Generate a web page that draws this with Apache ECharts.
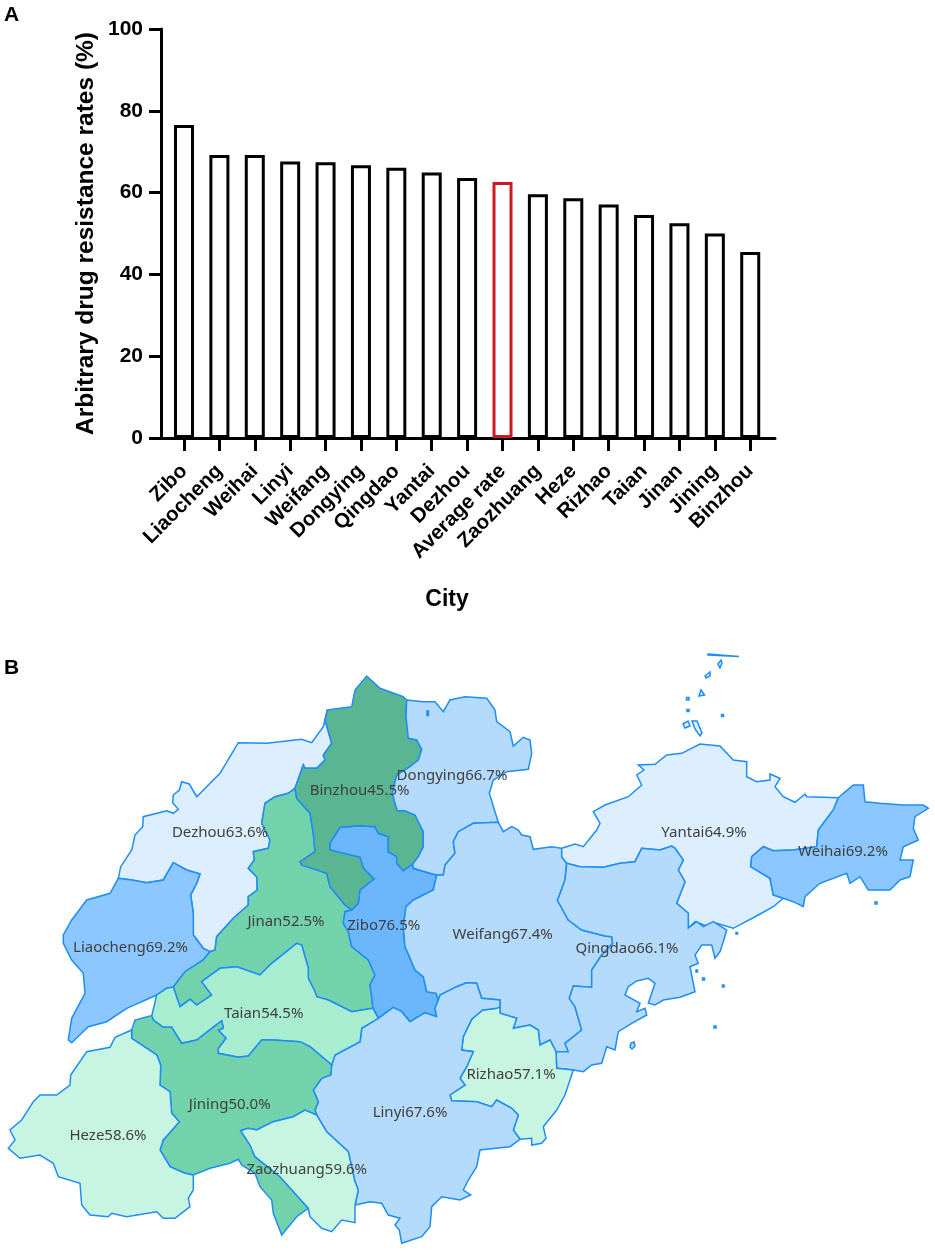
<!DOCTYPE html>
<html>
<head>
<meta charset="utf-8">
<title>Arbitrary drug resistance rates</title>
<script src="https://cdn.jsdelivr.net/npm/echarts@6/dist/echarts.min.js"></script>
<style>
html, body { margin: 0; padding: 0; background: #fff; }
#chart { width: 935px; height: 1251px; }
</style>
</head>
<body>
<div id="chart"></div>
<script>
// bar values, same order as the figure
const cities = ["Zibo", "Liaocheng", "Weihai", "Linyi", "Weifang", "Dongying", "Qingdao", "Yantai", "Dezhou",
    "Average rate", "Zaozhuang", "Heze", "Rizhao", "Taian", "Jinan", "Jining", "Binzhou"]
const rates = [76.5, 69.2, 69.2, 67.6, 67.4, 66.7, 66.1, 64.9, 63.6, 62.6, 59.6, 58.6, 57.1, 54.5, 52.5, 50.0, 45.5]
const yTicks = [0, 20, 40, 60, 80, 100]

// map classes: upper bound of each value band and its fill
const bandLimits = [48, 54, 56, 60, 66, 68, 70, 80]
const bandColors = ["#5ab592", "#72d2ac", "#a8edd0", "#c8f4e2", "#dceeff", "#b5dbfc", "#8cc8ff", "#6cb6fb"]

// region borders, in map units. shared borders are kept once and reused
const dezhouCoast = [[118.3,878.3],[120.7,866.7],[131.7,850],[135,835],[142.7,826.7],[143.3,816.7],[166.7,810.7],[173.3,813.3],[178.3,809.3],[172.7,802.7],[173.3,795],[179.3,790],[181.7,781.7],[189.3,784],[196.7,796.7],[220,773.3],[230,756.7],[238.3,742.7],[266.7,743.3],[301.7,739.3],[311.7,742.7],[323.3,726.7],[327.3,710]]
const binDezhou = [[327.3,710],[325,720],[331.7,743.3],[323.3,755],[325,760],[316.7,768.3],[305,768.3],[303.3,765],[295,788.3]]
const dezhouJinan = [[295,788.3],[288.3,793.3],[275,796.7],[265,803.3],[261.7,823.3],[270,840],[268.3,848.3],[253.3,851.7],[254.3,860],[248.3,868.3],[256.7,876.7],[257.3,890],[248.3,896.7],[248.3,905],[233.3,918.3],[216.7,936.7],[215,950],[210,951.7]]
const dezhouLiao = [[210,951.7],[203.3,948.3],[193.3,935],[193.3,913.3],[190.7,895],[196.7,883.3],[200,874],[186.7,870],[173.3,862.7],[163.3,880],[146.7,882.7],[131.7,880],[118.3,878.3]]
const liaoOuter = [[118.3,878.3],[110,893.3],[86.7,900],[71.7,920],[63.3,935],[63.3,943.3],[71.7,960],[83.3,973.3],[85,993.3],[71.7,1018.3],[68.3,1040],[71.7,1042.7],[88.3,1026.7],[106.7,1021.7],[126.7,1008.3],[156.7,995]]
const liaoTaian = [[156.7,995],[166.7,988.3],[173.3,987]]
const liaoJinan = [[173.3,987],[185,971.7],[203.3,960],[210,951.7]]
const binTop = [[327.3,710],[351.7,706.7],[355,690],[366.7,676],[380,688.3],[403.3,696.7],[406.7,700]]
const binDong = [[406.7,700],[406,716.7],[408.3,738.3],[416.7,740],[421.7,749.3],[418.3,760],[410,766.7],[396.7,775],[392.3,793.3],[395,803.3],[397.3,810.7],[405,810.7],[415,815],[423.3,831.7],[423.3,846.7],[418.3,856.7],[412.7,864]]
const binZibo = [[412.7,864],[403.3,870.7],[396.7,863.3],[396.7,856.7],[388.3,851.7],[388.3,836.7],[378.3,833.3],[375,826.7],[360,825.7],[340,827.3],[330,843.3],[330,850],[360,857.3],[363.3,868.3],[374,879],[360,890],[358.3,903.3],[351.7,910]]
const binJinan = [[351.7,910],[345,905],[330,886.7],[326.7,873.3],[301.7,865],[300,861.7],[315,851.7],[313.3,833.3],[310,813.3],[296.7,798.3],[295,788.3]]
const jinanZibo = [[351.7,910],[345,911.7],[343.3,923.3],[348.3,931.7],[351.7,946.7],[368.3,960],[375,975],[370,985],[371.7,997],[373,1008.3]]
const jinanTaian = [[373,1008.3],[351.7,1011.7],[328.3,1000],[316.7,996.7],[315,991.7],[308.3,978.3],[308.3,968.3],[301.7,945],[296.7,943.3],[271.7,963.3],[260,975],[236.7,966.7],[220,968.3],[201.7,981.7],[211.7,995],[196.7,1005],[190,999.3],[180,1006.7],[173.3,987]]
const ziboLinyi = [[373,1008.3],[378.3,1018.3],[393.3,1007.3],[401.7,1011.7],[410,1021.7],[425,1012.7],[436.7,1016.7],[435,1008.3],[438.3,1000]]
const ziboWeifang = [[438.3,1000],[436,993.3],[426.7,991.7],[423.3,976.7],[415,970],[407.3,951.7],[405,946.7],[403.3,926.7],[406,906.7],[413.3,900],[433.3,890],[436.7,875]]
const ziboDong = [[436.7,875],[430,873.3],[413.3,868.3],[412.7,864]]
const dongCoast = [[406.7,700],[423.3,701.7],[435,701.7],[443.3,711.7],[450,700],[465,696.7],[486.7,698.3],[495,710],[496.7,721.7],[510,731.7],[513.3,746],[523.3,737.3],[530,740],[531.7,753.3],[528.3,769.3],[506.7,771.7],[493.3,780],[489.3,793.3],[495,811.7],[498.3,822.3]]
const dongWeifang = [[498.3,822.3],[473.3,823.3],[458.3,831.7],[453.3,841.7],[455,853.3],[445,865],[443.3,875],[436.7,875]]
const weifangCoast = [[498.3,822.3],[503.3,831.7],[511.7,826.7],[518.3,830],[521.7,835],[530,836.7],[533.3,849.3],[551.7,846.7],[561.7,848.3]]
const weifangYantai = [[561.7,848.3],[561.7,856.7],[566.7,863.3]]
const weifangQingdao = [[566.7,863.3],[565,880],[558.3,898.3],[557.3,900],[568.3,920],[581.7,930],[605,936],[611.7,936.7],[612.7,943.3],[601.7,955],[591.7,970],[591.7,987.3],[573.3,986],[569.3,998.3],[575,1006.7],[581.7,1030],[565,1043.3],[568.3,1051.7],[556,1051.7]]
const weifangRizhao = [[556,1051.7],[550,1040],[540,1045],[538.3,1030],[530,1025],[513.3,1028.3],[516.7,1018.3],[500,1013.3],[500,1006.7]]
const weifangLinyi = [[500,1006.7],[500,1000],[481.7,998.3],[476.7,983.3],[466.7,982.7],[456.7,986.7],[440,995],[438.3,1000]]
const yantaiCoast = [[561.7,848.3],[575,844],[583.3,846.7],[596.7,830],[600,823.3],[593.3,811.7],[605,805],[628.3,796.7],[641.7,785],[636.7,775],[644,770],[638.3,765],[655,764.3],[666.7,755],[681.7,753.3],[700,744],[720,746],[733.3,760],[746.7,761.7],[746.7,776.7],[756.7,781.7],[770,780],[770,774],[780,778.3],[775,786.7],[783.3,796.7],[795,802.3],[805,794],[806.7,796.7],[838.3,797.7]]
const yantaiWeihai = [[838.3,797.7],[833.3,810],[818.3,830],[816.7,846.7],[793.3,850],[773.3,850.7],[763.3,846.7],[751.7,856.7],[750.7,866.7],[770,878.3],[773.3,895],[783.3,898.3]]
const yantaiSouth = [[783.3,898.3],[773.3,906.7],[758.3,915],[733.3,928.3],[716.7,923.3],[706.7,926],[695,921.7],[688.3,928]]
const yantaiQingdao = [[688.3,928],[688.3,913.3],[676.7,903.3],[685,881.7],[678.3,870],[683.3,860],[675,848.3],[671.7,846],[660,850],[641.7,848.3],[635,861.7],[620,863.3],[603.3,867.3],[580,866.7],[566.7,863.3]]
const weihaiCoast = [[838.3,797.7],[843.3,793.3],[853.3,785],[863.3,785],[865,801.7],[880,803.3],[903.3,805],[923.3,805],[928.3,808.3],[915,816.7],[913.3,828.3],[918.3,840],[903.3,846.7],[900,860],[913.3,860],[910,876.7],[900,880],[890,890],[868.3,890],[860,876.7],[850,883.3],[846.7,873.3],[820,883.3],[805,896.7],[803.3,906.7],[793.3,901.7],[783.3,898.3]]
const qingdaoCoast = [[688.3,928],[696.7,921.7],[703.3,926.7],[713.3,921.7],[726.7,930],[723.3,941.7],[720,951.7],[715,958.3],[711.7,945],[701.7,945],[695,955],[698.3,963.3],[690,966.7],[695,991.7],[680,997.3],[663.3,1000],[655,1005],[648.3,1003.3],[655,983.3],[648.3,978.3],[636.7,981],[628.3,986.7],[625,995],[640,1003.3],[636.7,1011.7],[645,1008.3],[646.7,1015],[631.7,1023.3],[618.3,1031.7],[615,1050],[606.7,1046.7],[601.7,1063.3],[591.7,1065],[583.3,1071.7],[573.3,1070]]
const qingdaoRizhao = [[573.3,1070],[556.7,1068.3],[556,1051.7]]
const rizhaoWest = [[500,1006.7],[496.7,1008.3],[482.7,1010],[471.7,1019.3],[463.3,1036.7],[461.7,1050],[473.3,1051.7],[466.7,1066.7],[460,1078.3],[465,1085],[450,1095],[451.7,1100.7],[476.7,1101.7],[491.7,1106.7],[496.7,1100],[511.7,1108.3],[518.3,1115],[513.3,1130],[520,1139.3]]
const rizhaoCoast = [[520,1139.3],[531.7,1138.3],[531.7,1145],[541.7,1143.3],[546,1138.3],[543.3,1126.7],[556.7,1110],[565,1095],[573.3,1070]]
const linyiCoast = [[520,1139.3],[510,1146.7],[480,1150],[476.7,1166.7],[468.3,1180],[463.3,1190],[470.7,1195],[460,1200],[441.7,1196.7],[431.7,1206.7],[430,1226.7],[421.7,1236.7],[401.7,1243.3],[399.3,1230],[395,1225],[400,1218.3],[388.3,1215],[381.7,1203.3],[370,1201.7],[355,1205]]
const zaoLinyi = [[355,1205],[358.3,1190],[355,1181.7],[348.3,1151.7],[326.7,1131.7],[316.7,1115]]
const zaoSouth = [[355,1205],[355,1222.7],[341.7,1220],[331.7,1231.7],[321.7,1228.3],[310,1216.7],[308.3,1208.3]]
const jiningLinyi = [[316.7,1115],[315,1110],[318.3,1101.7],[313.3,1090],[321.7,1078.3],[330.7,1075],[331.7,1065]]
const taianLinyi = [[331.7,1065],[335,1055],[360,1041.7],[361.7,1028.3],[378.3,1018.3],[373,1008.3]]
const taianJining = [[331.7,1065],[310,1046.7],[300,1041.7],[273.3,1040],[261.7,1040],[248.3,1056],[238.3,1057.3],[218.3,1053.3],[218.3,1048.3],[226,1038.3],[218.3,1030],[223.3,1028.3],[221.7,1020.7],[211.7,1028.3],[196.7,1040],[181.7,1043.3],[171.7,1027.3],[163.3,1027.3],[153.3,1020],[151.7,1016]]
const jiningNorth = [[131.7,1030],[135,1020],[150,1016]]
const jiningZao = [[316.7,1115],[305,1110],[293.3,1116.7],[273.3,1121.7],[256.7,1130],[248.3,1128.3],[240.7,1130.7],[250,1145],[255,1156.7],[280,1176.7],[308.3,1208.3]]
const jiningTail = [[308.3,1208.3],[296.7,1216.7],[281.7,1235],[273.3,1213.3],[271.7,1200],[260,1186.7],[255,1173.3],[241.7,1165],[238.3,1159.3],[230,1163.3],[210,1168.3],[193.3,1175]]
const jiningHeze = [[193.3,1175],[185,1173.3],[170,1166.7],[160,1150],[163.3,1140],[175,1126.7],[179.3,1121.7],[171.7,1113.3],[170,1091.7],[160,1085],[160.7,1065],[156.7,1055],[131.7,1038.3]]
const hezeOuter = [[193.3,1175],[193.3,1190],[188.3,1198.3],[190,1206.7],[175,1218.3],[163.3,1218.3],[156.7,1211.7],[126.7,1216.7],[111.7,1213.3],[108.3,1216.7],[90,1215],[81.7,1205],[80,1183.3],[58.3,1176.7],[53.3,1163.3],[40,1155],[20,1158.3],[8.3,1148.3],[15,1140],[10,1130],[21.7,1120],[33.3,1101.7],[40,1095],[56.7,1095],[70,1085],[70.7,1075],[86.7,1051.7],[110,1047.3],[115,1037.3],[131.7,1030]]

// offshore islands
const yantaiIslands = [[[708,654],[739,656.5],[739,657.5],[708,655]], [[718,664],[721,660],[722,663],[720,668]], [[705,676],[710,672],[710,676],[706,678]], [[701,690],[704.5,695],[699,696]],
    [[683,724],[688,721],[690,726],[685,728]], [[692,721],[697,721],[702,733],[700,736],[695,729]], [[686.5,697.5],[689,697.5],[689,700],[686.5,700]], [[687,709.5],[689,709.5],[689,711.5],[687,711.5]], [[721.5,714.5],[723.5,714.5],[723.5,716.5],[721.5,716.5]]]
const qingdaoIslands = [[[631,1043],[634,1042],[635,1046],[632,1049],[630,1047]], [[714,1026],[716,1026],[716,1028],[714,1028]], [[722.5,985],[724,985],[724,987],[722.5,987]], [[702.5,978],[704.5,978],[704.5,980],[702.5,980]], [[696,970],[697.5,970],[697.5,972],[696,972]], [[736,932.5],[737.5,932.5],[737.5,934],[736,934]]]
const weihaiIslands = [[[875,902],[877,902],[877,904],[875,904]]]
const dongyingIslands = [[[427,711],[428.5,711],[428.5,715.5],[427,715.5]]]

const rev = chain => chain.slice().reverse()

// text anchor of each map label
const labelAnchors = {
    Zibo: [383.7, 926], Liaocheng: [130.5, 948], Weihai: [843, 851.7], Linyi: [410, 1113], Weifang: [502.7, 935], Dongying: [452, 776],
    Qingdao: [627, 949], Yantai: [704, 833], Dezhou: [220, 832.7], Zaozhuang: [306.7, 1170], Heze: [108, 1136], Rizhao: [511, 1075],
    Taian: [263.7, 1014], Jinan: [286, 922], Jining: [229.7, 1105], Binzhou: [359.6, 790.7]
}

const regionRings = {
    Dezhou: [[...dezhouCoast, ...binDezhou, ...dezhouJinan, ...dezhouLiao]],
    Liaocheng: [[...dezhouLiao, ...liaoOuter, ...liaoTaian, ...liaoJinan]],
    Jinan: [[...liaoJinan, ...rev(dezhouJinan), ...rev(binJinan), ...jinanZibo, ...jinanTaian]],
    Zibo: [[...binZibo, ...jinanZibo, ...ziboLinyi, ...ziboWeifang, ...ziboDong]],
    Binzhou: [[...binTop, ...binDong, ...binZibo, ...binJinan, ...rev(binDezhou)]],
    Dongying: [[...dongCoast, ...dongWeifang, ...ziboDong, ...rev(binDong)], ...dongyingIslands],
    Weifang: [[...rev(dongWeifang), ...weifangCoast, ...weifangYantai, ...weifangQingdao, ...weifangRizhao, ...weifangLinyi, ...ziboWeifang]],
    Yantai: [[...yantaiCoast, ...yantaiWeihai, ...yantaiSouth, ...yantaiQingdao, ...rev(weifangYantai)], ...yantaiIslands],
    Weihai: [[...weihaiCoast, ...rev(yantaiWeihai)], ...weihaiIslands],
    Qingdao: [[...rev(yantaiQingdao), ...qingdaoCoast, ...qingdaoRizhao, ...rev(weifangQingdao)], ...qingdaoIslands],
    Rizhao: [[...rizhaoWest, ...rizhaoCoast, ...qingdaoRizhao, ...weifangRizhao]],
    Linyi: [[...ziboLinyi, ...rev(weifangLinyi), ...rizhaoWest, ...linyiCoast, ...zaoLinyi, ...jiningLinyi, ...taianLinyi]],
    Taian: [[...liaoTaian, ...rev(jinanTaian), ...rev(taianLinyi), ...taianJining]],
    Jining: [[...jiningNorth, ...rev(taianJining), ...rev(jiningLinyi), ...jiningZao, ...jiningTail, ...jiningHeze]],
    Heze: [[...rev(jiningHeze), ...hezeOuter]],
    Zaozhuang: [[...rev(jiningZao), ...rev(zaoLinyi), ...zaoSouth]]
}

const features = Object.keys(regionRings).map(name => ({
    type: "Feature",
    properties: { name: name, cp: labelAnchors[name] },
    geometry: { type: "MultiPolygon", coordinates: regionRings[name].map(ring => [[...ring, ring[0]]]) }
}))
echarts.registerMap("shandong", { type: "FeatureCollection", features: features })

// map units are screen pixels, so the bbox gives the layout box
const allPoints = Object.values(regionRings).flat(2)
const xs = allPoints.map(p => p[0])
const ys = allPoints.map(p => p[1])
const mapLeft = Math.min(...xs)
const mapTop = Math.min(...ys)

const boldFont = "'Liberation Sans', Arial, sans-serif"

let myChart = echarts.init(document.getElementById("chart"))
myChart.setOption({
    animation: false,
    title: [
        { text: "A", left: -1, top: 0, textStyle: { fontFamily: boldFont, fontWeight: "bold", fontSize: 21, color: "#000" } },
        { text: "B", left: -1, top: 653, textStyle: { fontFamily: boldFont, fontWeight: "bold", fontSize: 21, color: "#000" } }
    ],
    grid: { left: 161, top: 29, width: 614, height: 409 },
    xAxis: {
        type: "value",
        // first bar sits off the y axis, so x runs past the category range on both sides
        min: -0.65,
        max: 16.7,
        splitLine: { show: false },
        name: "City",
        nameLocation: "middle",
        nameGap: 150,
        nameMoveOverlap: false,
        nameTextStyle: { fontFamily: boldFont, fontWeight: "bold", fontSize: 23, color: "#000", padding: [0, 42, 0, 0] },
        axisLine: { lineStyle: { color: "#000", width: 3 } },
        axisTick: { length: 13, lineStyle: { color: "#000", width: 3 }, customValues: cities.map((c, i) => i) },
        axisLabel: {
            rotate: 45,
            margin: 30,
            fontFamily: boldFont,
            fontWeight: "bold",
            fontSize: 20.5,
            color: "#000",
            customValues: cities.map((c, i) => i),
            formatter: v => cities[v]
        }
    },
    yAxis: {
        type: "value",
        min: 0,
        max: 100,
        interval: 20,
        splitLine: { show: false },
        name: "Arbitrary drug resistance rates (%)",
        nameLocation: "middle",
        nameGap: 62,
        nameMoveOverlap: false,
        nameTextStyle: { fontFamily: boldFont, fontWeight: "bold", fontSize: 24.5, color: "#000" },
        axisLine: { show: true, onZero: false, lineStyle: { color: "#000", width: 3 } },
        axisTick: { show: true, length: 12, lineStyle: { color: "#000", width: 3 } },
        axisLabel: { margin: 18, fontFamily: boldFont, fontWeight: "bold", fontSize: 21, color: "#000", formatter: v => yTicks.includes(v) ? String(v) : "" }
    },
    visualMap: {
        type: "piecewise",
        show: false,
        seriesIndex: 1,
        pieces: bandLimits.map((limit, i) => ({ min: i ? bandLimits[i - 1] : 0, max: limit, color: bandColors[i] }))
    },
    series: [
        {
            type: "bar",
            barWidth: 20,
            silent: true,
            itemStyle: { color: "#fff", borderColor: "#000", borderWidth: 3 },
            data: cities.map((c, i) => ({
                value: [i, rates[i]],
                itemStyle: c === "Average rate" ? { borderColor: "#cc1a22" } : undefined
            }))
        },
        {
            type: "map",
            map: "shandong",
            projection: { project: p => p, unproject: p => p },
            left: mapLeft,
            top: mapTop,
            width: Math.max(...xs) - mapLeft,
            height: Math.max(...ys) - mapTop,
            silent: true,
            itemStyle: { borderColor: "#1e8df5", borderWidth: 1.5 },
            label: {
                show: true,
                fontFamily: "'Noto Sans', sans-serif",
                fontSize: 15,
                color: "#404040",
                formatter: p => p.name + p.value.toFixed(1) + "%"
            },
            data: cities.map((c, i) => ({ name: c, value: rates[i] })).filter(d => d.name !== "Average rate")
        }
    ]
})
</script>
</body>
</html>
